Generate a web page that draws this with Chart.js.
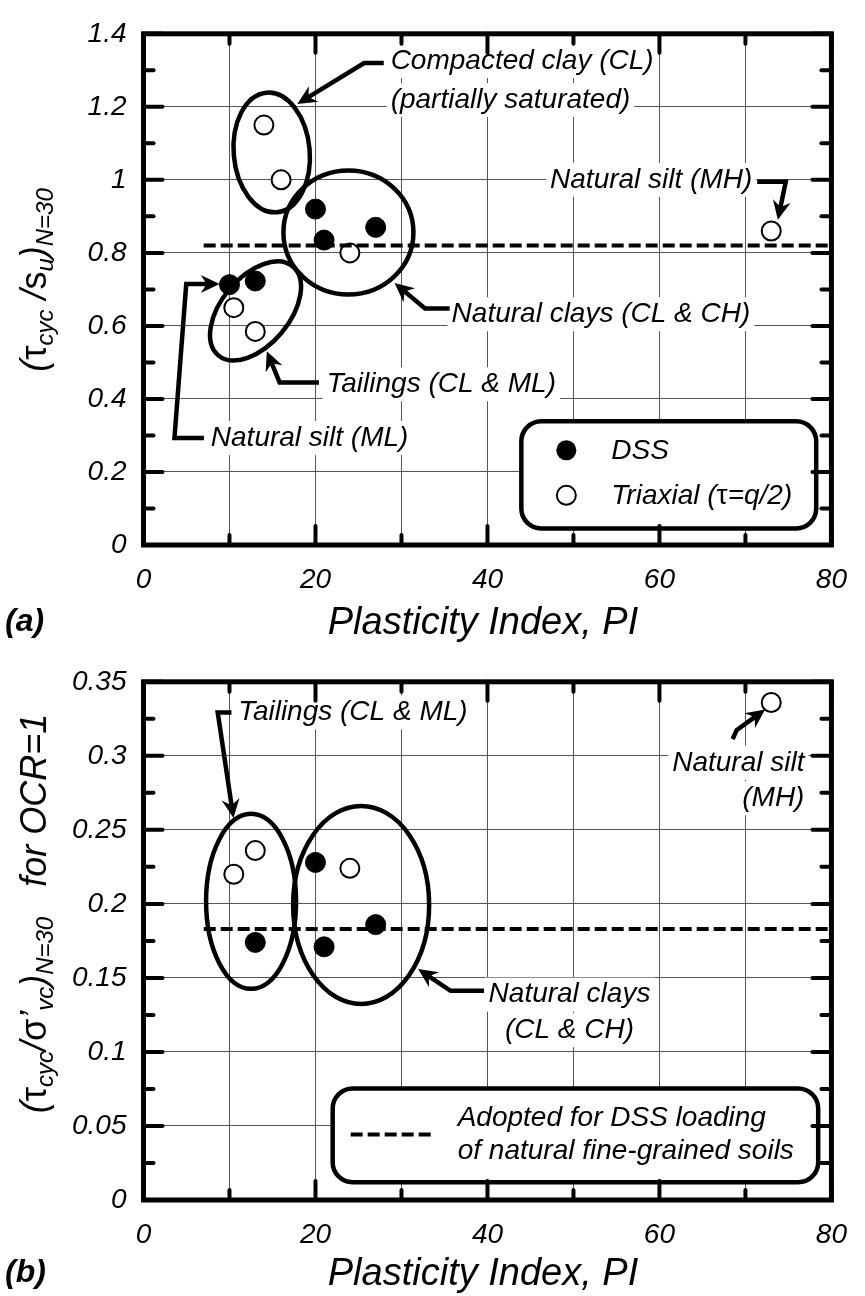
<!DOCTYPE html>
<html>
<head>
<meta charset="utf-8">
<script src="https://cdn.jsdelivr.net/npm/chart.js@4.4.1/dist/chart.umd.min.js"></script>
<style>
  html, body { margin: 0; padding: 0; background: #fff; }
  canvas { display: block; }
</style>
</head>
<body>
<canvas id="panelA" width="865" height="648"></canvas>
<canvas id="panelB" width="865" height="648"></canvas>
<script>
// ---- Panel (a): cyclic strength ratio normalised by s_u ----
const dssPI_A    = [20, 21, 27, 10, 13];
const dssRatio_A = [0.92, 0.835, 0.87, 0.713, 0.723];
const triPI_A    = [14, 16, 24, 10.5, 13, 73];
const triRatio_A = [1.15, 1.0, 0.80, 0.65, 0.585, 0.86];
const adoptedPI_A    = [7, 80];
const adoptedRatio_A = [0.82, 0.82];

// ---- Panel (b): cyclic stress ratio normalised by sigma'_vc, OCR = 1 ----
const dssPI_B    = [20, 27, 13, 21];
const dssRatio_B = [0.228, 0.186, 0.174, 0.171];
const triPI_B    = [13, 10.5, 24, 73];
const triRatio_B = [0.236, 0.22, 0.224, 0.336];
const adoptedPI_B    = [7, 80];
const adoptedRatio_B = [0.183, 0.183];

// ---- Axis ticks ----
const piTicks      = [0, 10, 20, 30, 40, 50, 60, 70, 80];
const piTickLabels = ['0', '', '20', '', '40', '', '60', '', '80'];
const ratioTicks_A      = [0, 0.2, 0.4, 0.6, 0.8, 1.0, 1.2, 1.4];
const ratioTickLabels_A = ['0', '0.2', '0.4', '0.6', '0.8', '1', '1.2', '1.4'];
const ratioTicks_B      = [0, 0.05, 0.1, 0.15, 0.2, 0.25, 0.3, 0.35];
const ratioTickLabels_B = ['0', '0.05', '0.1', '0.15', '0.2', '0.25', '0.3', '0.35'];

const FONT = "'Liberation Sans', Arial, Helvetica, sans-serif";
const pts = (xs, ys) => xs.map((x, i) => ({ x: x, y: ys[i] }));

// Annotation layout for each panel (anchors in PI / ratio units)
const notes = {
  panelA: {
    ellipses: [
      { pi: 14.91, r: 1.075, rx: 38, ry: 60, rot: -5 },
      { pi: 23.83, r: 0.856, rx: 65, ry: 62, rot: 0 },
      { pi: 13.03, r: 0.641, rx: 58, ry: 34, rot: -50 }
    ],
    arrows: [
      [[27.94, 1.32], [25.66, 1.32], [17.89, 1.208]],
      [[71.37, 0.9947], [74.69, 0.9947], [73.77, 0.8907]],
      [[35.6, 0.648], [32.74, 0.648], [29.2, 0.7173]],
      [[20.4, 0.4453], [15.83, 0.4453], [14.34, 0.5307]],
      [[7.03, 0.2933], [3.6, 0.2933], [4.97, 0.7147], [8.86, 0.7147]]
    ],
    labels: [
      { text: 'Compacted clay (CL)', pi: 28.74, r: 1.3253, align: 'left' },
      { text: '(partially saturated)', pi: 28.74, r: 1.2187, align: 'left' },
      { text: 'Natural silt (MH)', pi: 70.8, r: 1.0, align: 'right' },
      { text: 'Natural clays (CL & CH)', pi: 35.83, r: 0.632, align: 'left' },
      { text: 'Tailings (CL & ML)', pi: 21.31, r: 0.44, align: 'left' },
      { text: 'Natural silt (ML)', pi: 7.83, r: 0.2933, align: 'left' }
    ],
    legendBox: { pi0: 43.94, pi1: 78.23, r0: 0.3387, r1: 0.0453 },
    legendKind: 'markers',
    yTitle: [
      { t: '(', f: 'italic 36px' }, { t: 'τ', f: '36px' }, { t: 'cyc', f: 'italic 24px', dy: 7 },
      { t: ' /', f: 'italic 36px' }, { t: 's', f: '36px' }, { t: 'u', f: 'italic 24px', dy: 7 },
      { t: ')', f: 'italic 36px' }, { t: 'N=30', f: 'italic 24px', dy: 7 }
    ],
    yTitleCenter: 280, tag: '(a)', xTitleBase: 634
  },
  panelB: {
    ellipses: [
      { pi: 12.51, r: 0.2017, rx: 45, ry: 87.5, rot: 0 },
      { pi: 25.31, r: 0.1993, rx: 68, ry: 99, rot: 0 }
    ],
    arrows: [
      [[10.23, 0.3293], [8.63, 0.3293], [10.46, 0.258]],
      [[68.51, 0.3113], [68.97, 0.3173], [72.29, 0.3313]],
      [[39.6, 0.1413], [35.71, 0.1413], [31.94, 0.156]]
    ],
    labels: [
      { text: 'Tailings (CL & ML)', pi: 11.03, r: 0.3293, align: 'left' },
      { text: 'Natural silt', pi: 76.86, r: 0.2953, align: 'right' },
      { text: '(MH)', pi: 76.86, r: 0.2713, align: 'right' },
      { text: 'Natural clays', pi: 49.54, r: 0.1387, align: 'center' },
      { text: '(CL & CH)', pi: 49.54, r: 0.1147, align: 'center' }
    ],
    legendBox: { pi0: 22.0, pi1: 78.46, r0: 0.0753, r1: 0.012 },
    legendKind: 'dash',
    yTitle: [
      { t: '(', f: 'italic 36px' }, { t: 'τ', f: '36px' }, { t: 'cyc', f: 'italic 24px', dy: 7 },
      { t: '/', f: 'italic 36px' }, { t: 'σ', f: '36px' }, { t: '\u2019', f: 'italic 36px' },
      { t: 'vc', f: 'italic 24px', dy: 7 }, { t: ')', f: 'italic 36px' },
      { t: 'N=30', f: 'italic 24px', dy: 7 }, { t: '   for OCR=1', f: 'italic 36px' }
    ],
    yTitleCenter: 265.5, tag: '(b)', xTitleBase: 637
  }
};

function roundRect(ctx, x, y, w, h, r) {
  ctx.beginPath();
  ctx.moveTo(x + r, y);
  ctx.arcTo(x + w, y, x + w, y + h, r);
  ctx.arcTo(x + w, y + h, x, y + h, r);
  ctx.arcTo(x, y + h, x, y, r);
  ctx.arcTo(x, y, x + w, y, r);
  ctx.closePath();
}

function labelBox(ctx, lab, X, Y) {
  ctx.font = 'italic 28px ' + FONT;
  const w = ctx.measureText(lab.text).width;
  const px = X(lab.pi), py = Y(lab.r);
  let x0 = px;
  if (lab.align === 'right') x0 = px - w;
  if (lab.align === 'center') x0 = px - w / 2;
  return { x0: x0, y: py, w: w };
}

function drawArrow(ctx, path) {
  const n = path.length;
  const [tx, ty] = path[n - 1];
  const [bx, by] = path[n - 2];
  const a = Math.atan2(ty - by, tx - bx);
  const c = Math.cos(a), s = Math.sin(a);
  const L = 19, W = 9, notch = 6;
  ctx.save();
  ctx.strokeStyle = '#000';
  ctx.fillStyle = '#000';
  ctx.lineWidth = 4.5;
  ctx.lineJoin = 'miter';
  ctx.lineCap = 'butt';
  ctx.beginPath();
  ctx.moveTo(path[0][0], path[0][1]);
  for (let i = 1; i < n - 1; i++) ctx.lineTo(path[i][0], path[i][1]);
  ctx.lineTo(tx - c * (L - notch), ty - s * (L - notch));
  ctx.stroke();
  ctx.beginPath();
  ctx.moveTo(tx, ty);
  ctx.lineTo(tx - L * c + W * s, ty - L * s - W * c);
  ctx.lineTo(tx - (L - notch) * c, ty - (L - notch) * s);
  ctx.lineTo(tx - L * c - W * s, ty - L * s + W * c);
  ctx.closePath();
  ctx.fill();
  ctx.restore();
}

function drawRotatedRich(ctx, parts, baseX, centerY) {
  ctx.save();
  ctx.translate(baseX, centerY);
  ctx.rotate(-Math.PI / 2);
  ctx.fillStyle = '#000';
  ctx.textBaseline = 'alphabetic';
  ctx.textAlign = 'left';
  let total = 0;
  const widths = parts.map(p => { ctx.font = p.f + ' ' + FONT; const w = ctx.measureText(p.t).width; total += w; return w; });
  let x = -total / 2;
  parts.forEach((p, i) => { ctx.font = p.f + ' ' + FONT; ctx.fillText(p.t, x, p.dy || 0); x += widths[i]; });
  ctx.restore();
}

const notesPlugin = {
  id: 'notesPlugin',
  beforeDatasetsDraw(chart) {
    const cfg = notes[chart.canvas.id];
    const ctx = chart.ctx;
    const X = v => chart.scales.x.getPixelForValue(v);
    const Y = v => chart.scales.y.getPixelForValue(v);
    ctx.save();
    ctx.fillStyle = '#fff';
    cfg.labels.forEach(lab => {
      const b = labelBox(ctx, lab, X, Y);
      ctx.fillRect(b.x0 - 4, b.y - 17, b.w + 8, 34);
    });
    const lb = cfg.legendBox;
    roundRect(ctx, X(lb.pi0), Y(lb.r0), X(lb.pi1) - X(lb.pi0), Y(lb.r1) - Y(lb.r0), 20);
    ctx.fill();
    ctx.restore();
  },
  afterDatasetsDraw(chart) {
    const cfg = notes[chart.canvas.id];
    const ctx = chart.ctx;
    const area = chart.chartArea;
    const X = v => chart.scales.x.getPixelForValue(v);
    const Y = v => chart.scales.y.getPixelForValue(v);
    ctx.save();

    // group outlines
    ctx.strokeStyle = '#000';
    ctx.lineWidth = 4.5;
    cfg.ellipses.forEach(e => {
      ctx.beginPath();
      ctx.ellipse(X(e.pi), Y(e.r), e.rx, e.ry, e.rot * Math.PI / 180, 0, Math.PI * 2);
      ctx.stroke();
    });

    // leader arrows
    cfg.arrows.forEach(a => drawArrow(ctx, a.map(p => [X(p[0]), Y(p[1])])));

    // group names
    ctx.fillStyle = '#000';
    ctx.textBaseline = 'middle';
    ctx.textAlign = 'left';
    cfg.labels.forEach(lab => {
      const b = labelBox(ctx, lab, X, Y);
      ctx.fillText(lab.text, b.x0, b.y);
    });

    // legend
    const lb = cfg.legendBox;
    ctx.lineWidth = 4.5;
    roundRect(ctx, X(lb.pi0), Y(lb.r0), X(lb.pi1) - X(lb.pi0), Y(lb.r1) - Y(lb.r0), 20);
    ctx.stroke();
    const lx = X(lb.pi0), ly = Y(lb.r0);
    ctx.font = 'italic 28px ' + FONT;
    if (cfg.legendKind === 'markers') {
      ctx.beginPath(); ctx.arc(lx + 45, ly + 29, 10, 0, Math.PI * 2); ctx.fillStyle = '#000'; ctx.fill();
      ctx.beginPath(); ctx.arc(lx + 45, ly + 74, 9.5, 0, Math.PI * 2); ctx.fillStyle = '#fff'; ctx.fill();
      ctx.lineWidth = 2; ctx.stroke();
      ctx.fillStyle = '#000';
      ctx.fillText('DSS', lx + 90, ly + 30);
      let tx = lx + 90;
      [['Triaxial (', 'italic 28px '], ['τ', '28px '], ['=q/2)', 'italic 28px ']].forEach(seg => {
        ctx.font = seg[1] + FONT; ctx.fillText(seg[0], tx, ly + 75); tx += ctx.measureText(seg[0]).width;
      });
    } else {
      ctx.beginPath();
      ctx.setLineDash([12, 5]);
      ctx.lineWidth = 4;
      ctx.moveTo(lx + 18, ly + 46); ctx.lineTo(lx + 98, ly + 46);
      ctx.stroke();
      ctx.setLineDash([]);
      ctx.fillStyle = '#000';
      ctx.fillText('Adopted for DSS loading', lx + 125, ly + 30);
      ctx.fillText('of natural fine-grained soils', lx + 125, ly + 63);
    }

    // frame and inward ticks on all four sides
    ctx.strokeStyle = '#000';
    ctx.lineWidth = 4;
    ctx.lineCap = 'round';
    const tick = (x1, y1, x2, y2) => { ctx.beginPath(); ctx.moveTo(x1, y1); ctx.lineTo(x2, y2); ctx.stroke(); };
    piTicks.forEach((v, i) => {
      const len = piTickLabels[i] ? 19 : 10;
      const x = X(v);
      tick(x, area.bottom, x, area.bottom - len);
      tick(x, area.top, x, area.top + len);
    });
    const yt = chart.canvas.id === 'panelA' ? ratioTicks_A : ratioTicks_B;
    const yMinor = yt.slice(1).map((v, i) => (v + yt[i]) / 2);
    yt.forEach(v => { const y = Y(v); tick(area.left, y, area.left + 19, y); tick(area.right, y, area.right - 19, y); });
    yMinor.forEach(v => { const y = Y(v); tick(area.left, y, area.left + 10, y); tick(area.right, y, area.right - 10, y); });
    ctx.lineCap = 'butt';
    ctx.lineWidth = 5;
    ctx.strokeRect(area.left, area.top, area.right - area.left, area.bottom - area.top);
    ctx.restore();
  },
  afterDraw(chart) {
    const cfg = notes[chart.canvas.id];
    const ctx = chart.ctx;
    ctx.save();
    ctx.fillStyle = '#000';
    ctx.textBaseline = 'alphabetic';
    ctx.textAlign = 'center';
    ctx.font = 'italic 38px ' + FONT;
    ctx.fillText('Plasticity Index, PI', 483, cfg.xTitleBase);
    ctx.textAlign = 'left';
    ctx.font = 'bold italic 32px ' + FONT;
    ctx.fillText(cfg.tag, 5, cfg.xTitleBase - 3);
    drawRotatedRich(ctx, cfg.yTitle, 46, cfg.yTitleCenter);
    ctx.restore();
  }
};

function buildPanel(id, dss, tri, adopted, yTicks, yLabels, yMax, topPad, xAxisHeight) {
  return new Chart(document.getElementById(id), {
    type: 'scatter',
    data: {
      datasets: [
        { type: 'line', label: 'Adopted', data: adopted, borderColor: '#000', borderWidth: 4,
          borderDash: [12, 5], pointRadius: 0, fill: false, tension: 0 },
        { label: 'DSS', data: dss, backgroundColor: '#000', borderColor: '#000',
          borderWidth: 1, pointRadius: 10, pointHoverRadius: 10 },
        { label: 'Triaxial', data: tri, backgroundColor: '#fff', borderColor: '#000',
          borderWidth: 2, pointRadius: 9.5, pointHoverRadius: 9.5 }
      ]
    },
    options: {
      responsive: false,
      animation: false,
      devicePixelRatio: 1,
      events: [],
      layout: { padding: { left: 0, right: 21, top: topPad, bottom: 0 } },
      plugins: { legend: { display: false }, tooltip: { enabled: false } },
      scales: {
        x: {
          type: 'linear', min: 0, max: 80,
          afterBuildTicks: s => { s.ticks = piTicks.map(v => ({ value: v })); },
          afterFit: s => { s.height = xAxisHeight; },
          grid: { color: '#555', lineWidth: 1, drawTicks: false },
          border: { display: false },
          ticks: { padding: 18, maxRotation: 0, autoSkip: false, color: '#000',
                   font: { family: FONT, size: 28, style: 'italic' },
                   callback: (v, i) => piTickLabels[i] }
        },
        y: {
          type: 'linear', min: 0, max: yMax,
          afterBuildTicks: s => { s.ticks = yTicks.map(v => ({ value: v })); },
          afterFit: s => { s.width = 143.5; },
          grid: { color: '#555', lineWidth: 1, drawTicks: false },
          border: { display: false },
          ticks: { padding: 17, autoSkip: false, color: '#000',
                   font: { family: FONT, size: 28, style: 'italic' },
                   callback: (v, i) => yLabels[i] }
        }
      }
    },
    plugins: [notesPlugin]
  });
}

buildPanel('panelA', pts(dssPI_A, dssRatio_A), pts(triPI_A, triRatio_A), pts(adoptedPI_A, adoptedRatio_A),
           ratioTicks_A, ratioTickLabels_A, 1.4, 20, 103);
buildPanel('panelB', pts(dssPI_B, dssRatio_B), pts(triPI_B, triRatio_B), pts(adoptedPI_B, adoptedRatio_B),
           ratioTicks_B, ratioTickLabels_B, 0.35, 27, 96);
</script>
</body>
</html>
